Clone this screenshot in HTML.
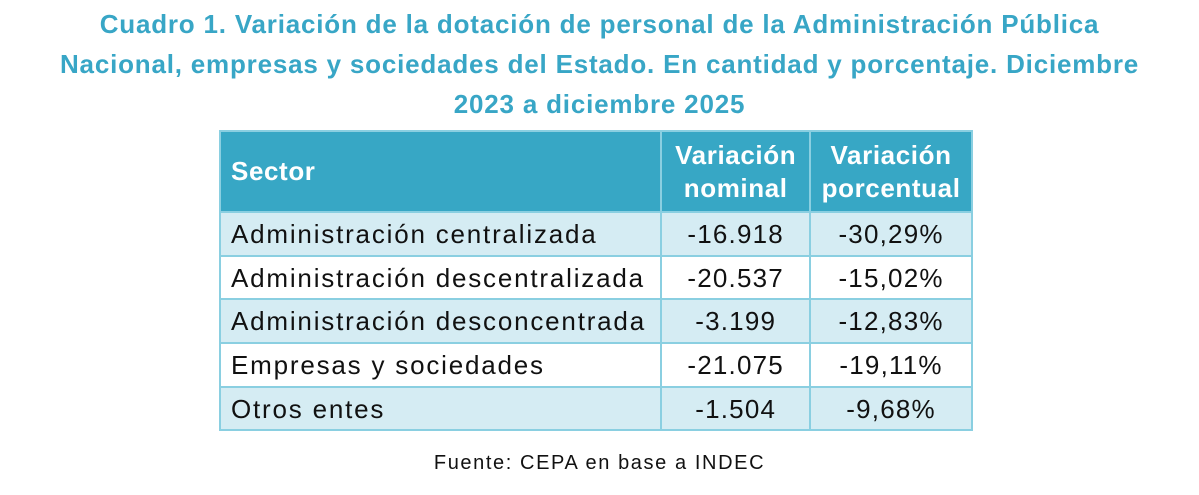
<!DOCTYPE html>
<html><head><meta charset="utf-8"><style>
body{margin:0;width:1199px;height:495px;background:#fff;font-family:"Liberation Sans",sans-serif;position:relative;overflow:hidden}
.t{position:absolute;left:0;width:1199px;top:4px;text-align:center;color:#38a6c6;font-weight:bold;font-size:26px;letter-spacing:0.8px;line-height:40px}
table{position:absolute;left:219px;top:130px;border-collapse:collapse;width:754px}
td,th{border:2px solid #8acfe1;font-size:26px;letter-spacing:1.8px;padding:0 10px;color:#111;white-space:nowrap}
th{background:#37a7c5;color:#fff;height:79px;font-size:26px;letter-spacing:0.6px;line-height:33px;text-align:center}
th:first-child{text-align:left}
td{height:41.7px;line-height:30px;padding-top:0;padding-bottom:0}
td:nth-child(n+2){text-align:center;letter-spacing:1.2px}
tr.a td{background:#d5ecf3}
.f{position:absolute;left:0;width:1199px;top:452px;text-align:center;font-size:20px;letter-spacing:1.6px;color:#111}
</style></head><body>
<div class="t">Cuadro 1. Variación de la dotación de personal de la Administración Pública<br>Nacional, empresas y sociedades del Estado. En cantidad y porcentaje. Diciembre<br>2023 a diciembre 2025</div>
<table>
<colgroup><col style="width:442px"><col style="width:150px"><col style="width:162px"></colgroup>
<tr><th>Sector</th><th>Variación<br>nominal</th><th>Variación<br>porcentual</th></tr>
<tr class="a"><td>Administración centralizada</td><td>-16.918</td><td>-30,29%</td></tr>
<tr><td>Administración descentralizada</td><td>-20.537</td><td>-15,02%</td></tr>
<tr class="a"><td>Administración desconcentrada</td><td>-3.199</td><td>-12,83%</td></tr>
<tr><td>Empresas y sociedades</td><td>-21.075</td><td>-19,11%</td></tr>
<tr class="a"><td>Otros entes</td><td>-1.504</td><td>-9,68%</td></tr>
</table>
<div class="f">Fuente: CEPA en base a INDEC</div>
</body></html>
